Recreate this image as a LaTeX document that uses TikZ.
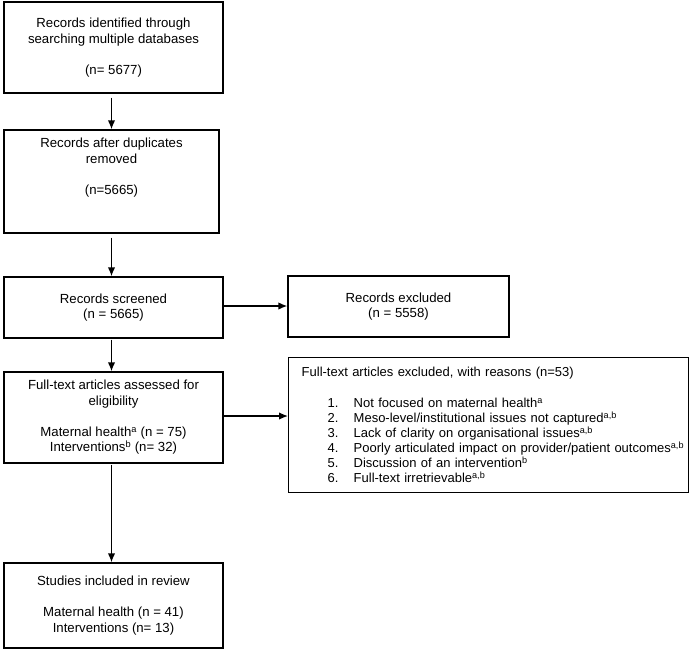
\documentclass[tikz,border=0pt]{standalone}
\usepackage{fontspec}
\setmainfont{Liberation Sans}
\usetikzlibrary{arrows.meta}
\begin{document}
\begin{tikzpicture}[x=1pt,y=-1pt,
  box/.style={draw, line width=1.4pt, rectangle, align=center, inner sep=0pt,
    font=\fontsize{13.2}{15.5}\selectfont},
  arr/.style={line width=1.4pt, -{Latex[length=9pt,width=7.5pt]}}
]
\useasboundingbox (0,0) rectangle (700,650);
\node[box, minimum width=219pt, minimum height=91pt] (b1) at (113.5,47.5)
  {Records identified through\\searching multiple databases\\[15.5pt](n= 5677)};
\node[box, minimum width=215pt, minimum height=103pt] (b2) at (111.5,181.5)
  {Records after duplicates\\removed\\[15.5pt](n=5665)\\[15.5pt]\mbox{}};
\node[box, minimum width=219pt, minimum height=61pt] (b3) at (113.5,307.5)
  {Records screened\\(n = 5665)};
\node[box, minimum width=219pt, minimum height=91pt] (b4) at (113.5,417.5)
  {Full-text articles assessed for\\eligibility\\[15.5pt]Maternal health\textsuperscript{a} (n = 75)\\Interventions\textsuperscript{b} (n= 32)};
\node[box, minimum width=219pt, minimum height=85pt] (b5) at (113.5,605.5)
  {Studies included in review\\[15.5pt]Maternal health (n = 41)\\Interventions (n= 13)};
\node[box, minimum width=221pt, minimum height=61pt] (rex) at (398.5,306.5)
  {Records excluded\\(n = 5558)};
\node[box, align=left, text width=374pt, inner xsep=13pt, minimum height=135pt, anchor=north west,
  font=\fontsize{13}{15}\selectfont] (fte) at (288,357)
  {\mbox{Full-text articles excluded, with reasons (n=53)}\\[16pt]
   \mbox{\hspace*{26pt}\makebox[26pt][l]{1.}Not focused on maternal health\textsuperscript{a}}\\
   \mbox{\hspace*{26pt}\makebox[26pt][l]{2.}Meso-level/institutional issues not captured\textsuperscript{a,b}}\\
   \mbox{\hspace*{26pt}\makebox[26pt][l]{3.}Lack of clarity on organisational issues\textsuperscript{a,b}}\\
   \mbox{\hspace*{26pt}\makebox[26pt][l]{4.}Poorly articulated impact on provider/patient outcomes\textsuperscript{a,b}}\\
   \mbox{\hspace*{26pt}\makebox[26pt][l]{5.}Discussion of an intervention\textsuperscript{b}}\\
   \mbox{\hspace*{26pt}\makebox[26pt][l]{6.}Full-text irretrievable\textsuperscript{a,b}}};
\draw[arr, shorten <=4pt] (b1.south -| b2.north) -- (b2.north);
\draw[arr, shorten <=4pt] (b2.south) -- (b2.south |- b3.north);
\draw[arr, shorten <=1pt] (b3.south -| b2.south) -- (b2.south |- b4.north);
\draw[arr, shorten <=1pt] (b4.south -| b2.south) -- (b2.south |- b5.north);
\draw[arr] ([yshift=1.5pt]b3.east) -- ([yshift=1.5pt]b3.east -| rex.west);
\draw[arr] ([yshift=1.5pt]b4.east) -- ([yshift=1.5pt]b4.east -| fte.west);
\end{tikzpicture}
\end{document}
